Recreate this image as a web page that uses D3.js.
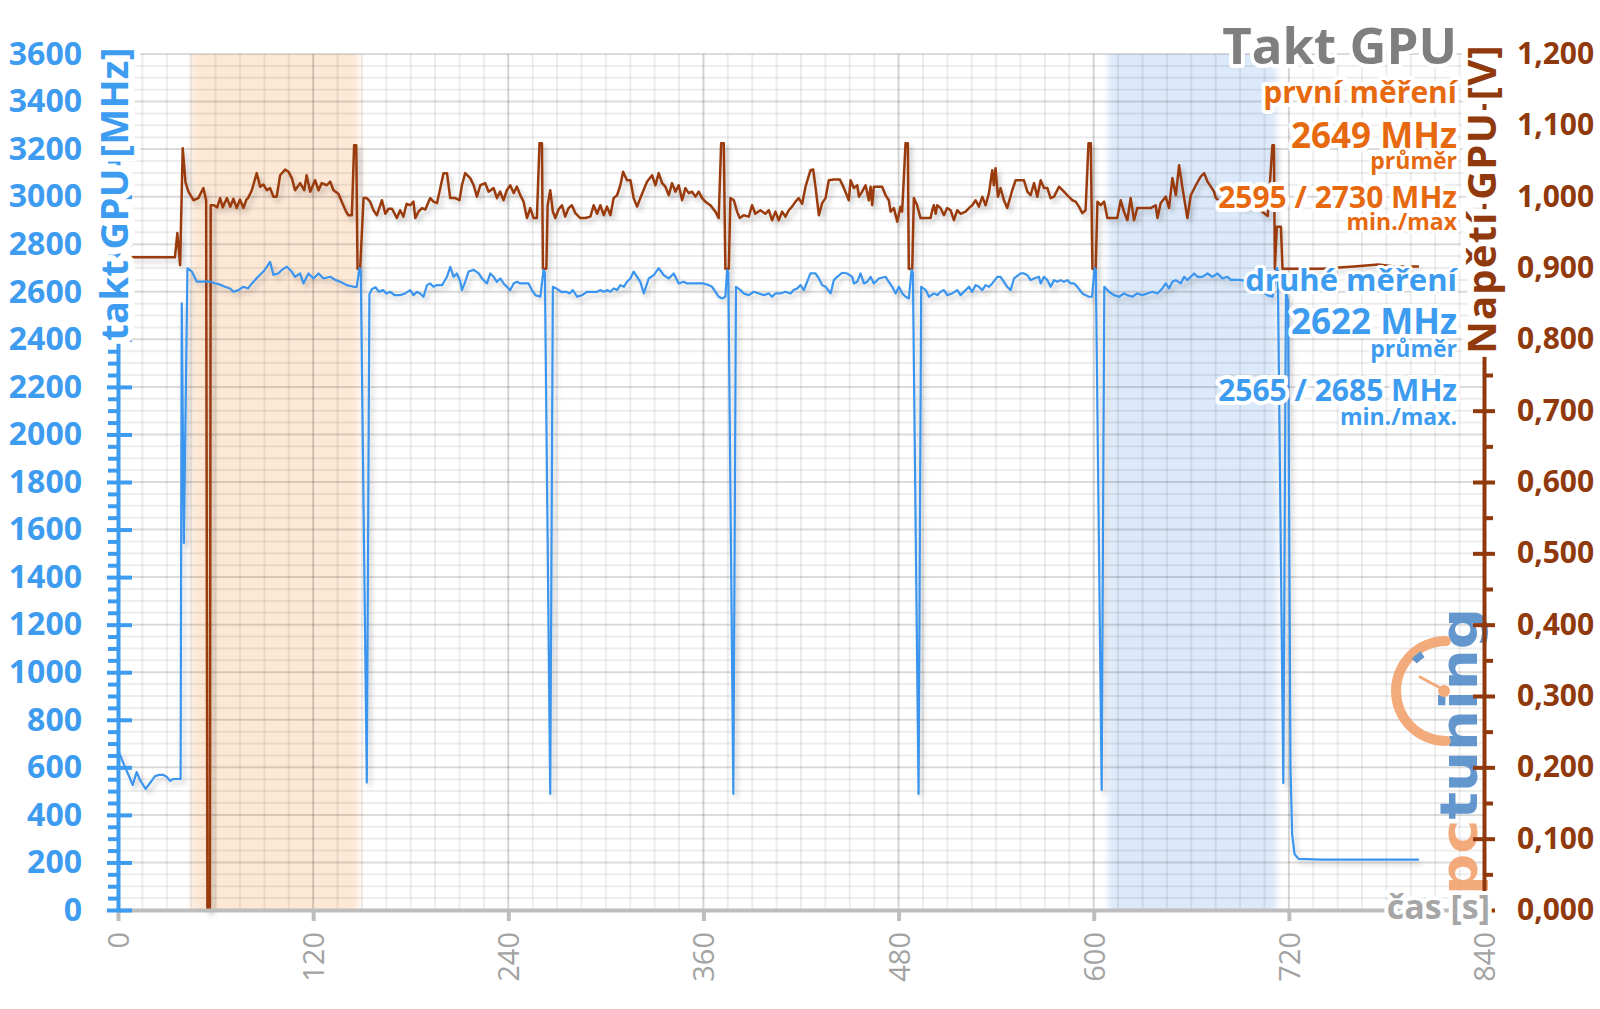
<!DOCTYPE html>
<html>
<head>
<meta charset="utf-8">
<title>Takt GPU</title>
<script src="https://cdn.jsdelivr.net/npm/d3@7"></script>
<style>
  html, body { margin: 0; padding: 0; background: #ffffff; }
  svg { display: block; }
</style>
</head>
<body>
<svg id="chart" width="1600" height="1009"></svg>
<script>
// ---- values ----
const timeTicks = [0, 120, 240, 360, 480, 600, 720, 840];
const clockTicks = [0, 200, 400, 600, 800, 1000, 1200, 1400, 1600, 1800, 2000, 2200, 2400, 2600, 2800, 3000, 3200, 3400, 3600];
const voltTicks = [0, 0.1, 0.2, 0.3, 0.4, 0.5, 0.6, 0.7, 0.8, 0.9, 1.0, 1.1, 1.2];
const voltMinorTicks = [0.05, 0.15, 0.25, 0.35, 0.45, 0.55, 0.65, 0.75, 0.85, 0.95, 1.05, 1.15];

// highlighted time windows [s]
const bandRanges = [[45, 148], [609, 712.5]];

// first run: GPU voltage [V] over time [s]
const voltPts = [[0,0.915],[35,0.915],[36.5,0.949],[38.2,0.904],[39.8,1.068],[41.5,1.020],[43.3,1.007],[46.4,0.995],[49.4,0.998],[52.5,1.012],[54.2,0.995],[55,0],[56.5,0],[57,0.988],[59,0.988],[61,0.985],[62.8,0.998],[64.4,0.985],[67,0.998],[69,0.986],[71,0.997],[73,0.984],[75,0.996],[77.1,0.984],[79,0.996],[80,0.998],[82.3,1.009],[85.3,1.033],[87.4,1.014],[89.5,1.017],[91.5,1.009],[93.5,1.012],[95.6,1.000],[97.6,1.000],[99.7,1.030],[102.8,1.038],[104.8,1.035],[106.9,1.026],[108.9,1.009],[112,1.019],[114.5,1.009],[116,1.030],[118.2,1.007],[121.2,1.023],[123.3,1.009],[125.3,1.019],[128.4,1.016],[130.5,1.021],[132.5,1.009],[135.5,1.004],[137.6,0.993],[140.3,0.979],[141.7,0.974],[143.8,0.974],[145.2,1.072],[146.5,1.072],[147.3,0.899],[148.9,0.899],[151,0.998],[153,0.998],[155,0.993],[157.1,0.981],[159.2,0.974],[162.3,0.995],[164.4,0.976],[166.4,0.983],[168.5,0.983],[171.5,0.970],[173.5,0.981],[175.5,0.972],[177.5,0.990],[179.7,0.988],[181.7,0.993],[182.8,0.970],[184.8,0.979],[186.9,0.984],[189,0.982],[192,0.998],[194,0.993],[196.2,0.991],[198.2,1.012],[200.2,1.033],[202.3,1.033],[204.3,0.998],[207.4,0.998],[210,0.995],[211.5,1.016],[213.5,1.033],[216.6,1.026],[218.7,1.016],[220.7,1.000],[222.8,1.016],[225.8,1.019],[227.9,1.007],[231,1.012],[233,0.998],[235,1.007],[237.1,0.995],[239.1,1.009],[241.2,1.016],[243.3,1.005],[245.3,1.014],[247.4,1.002],[249.4,0.993],[251.5,0.970],[253.5,0.984],[255.6,0.970],[257.6,0.970],[259.2,1.075],[260.7,1.075],[261.3,0.899],[263.4,0.899],[264.2,0.988],[265.8,1.009],[267.4,0.979],[268.9,0.970],[270.9,0.982],[273,0.988],[275,0.972],[277.1,0.984],[279.1,0.988],[281.2,0.977],[284.3,0.970],[287.4,0.970],[290.5,0.972],[292.5,0.988],[294.6,0.976],[296.6,0.988],[298.7,0.974],[300.7,0.986],[302.8,0.974],[304.8,0.998],[306.9,1.002],[308.9,1.016],[310.6,1.035],[313,1.023],[315.1,1.023],[317.1,0.998],[319.2,0.986],[321.2,0.998],[325.3,1.021],[328.4,1.030],[330.5,1.016],[332.5,1.033],[334.6,1.019],[336.6,1.014],[338.7,1.002],[340.7,1.019],[342.8,1.007],[344.8,1.016],[346.9,0.995],[348.9,1.012],[351,1.005],[353,1.007],[355.1,1.000],[357.1,1.007],[359.2,0.998],[361.2,0.993],[364.3,0.988],[367.4,0.979],[369.4,0.970],[370.9,1.075],[372.5,1.075],[373.5,0.899],[375.6,0.899],[376.6,0.998],[378.7,0.995],[380.7,0.979],[382.3,0.970],[384.8,0.974],[387.9,0.972],[389.9,0.988],[391.9,0.976],[395,0.981],[398.1,0.976],[400.2,0.981],[402.2,0.967],[404.3,0.979],[406.3,0.967],[408.4,0.979],[410.4,0.972],[412.5,0.981],[414.5,0.986],[416.6,0.993],[418.6,0.998],[420.7,0.990],[422.8,1.014],[425.8,1.037],[427.5,1.038],[429,1.012],[431,0.974],[433,0.991],[435.1,0.998],[437.1,1.023],[440.2,1.024],[443.9,1.024],[446.4,1.012],[449.4,0.995],[450.5,1.023],[452.5,1.012],[454.6,1.016],[455.6,1.000],[457.6,1.007],[459.7,1.016],[461.7,0.995],[462.8,1.014],[463.8,0.988],[464.8,1.014],[467.9,1.014],[469.9,1.014],[472,1.002],[474,0.995],[475.1,0.979],[477.1,0.984],[479.2,0.965],[481.2,0.986],[482.2,0.979],[484.3,1.075],[485.7,1.075],[486.3,0.899],[488.4,0.899],[489.4,0.998],[491.4,0.988],[493.5,0.970],[496.6,0.970],[499.7,0.970],[500.7,0.981],[501.7,0.988],[502.8,0.976],[503.8,0.988],[505.8,0.984],[507.9,0.974],[509.9,0.984],[512,0.981],[514,0.967],[516.1,0.981],[518.2,0.976],[521.2,0.979],[523.3,0.984],[525.3,0.988],[527.4,0.995],[529.4,0.986],[531.5,1.000],[533.5,0.988],[535.6,1.005],[537.6,1.037],[538.6,1.016],[539.6,1.040],[541.1,1.000],[542.7,1.012],[544.8,0.995],[546.8,0.984],[549.9,1.009],[552,1.023],[555.1,1.023],[557.1,1.023],[559.2,1.007],[561.2,1.002],[563.3,1.019],[565.3,1.000],[567.4,1.023],[569.4,1.012],[571.5,1.012],[573.5,0.998],[575.6,1.000],[578.7,1.014],[581.7,1.007],[583.8,1.002],[586.8,0.995],[588.9,0.993],[590.9,0.986],[593,0.977],[595,0.981],[596.8,1.075],[598.2,1.075],[599.2,0.899],[601.2,0.899],[602.3,0.993],[604.3,0.988],[606.4,0.993],[608.4,0.970],[611.5,0.970],[614.5,0.970],[616.6,0.995],[618.6,0.979],[620.7,0.967],[622.7,0.998],[624.8,0.967],[626.8,0.984],[630.9,0.984],[635.1,0.984],[638.1,0.988],[639.2,0.970],[641.2,0.991],[644.3,1.000],[646.3,0.984],[648.4,1.026],[650.5,1.002],[652.5,1.044],[654.6,1.012],[657.6,0.970],[659.7,1.002],[662.8,1.016],[665.8,1.028],[667.9,1.033],[670,1.021],[672,1.014],[674,1.007],[675.1,0.998],[680,0.990],[686,0.995],[692,0.985],[698,0.990],[703,0.980],[707,0.973],[709.9,1.072],[710.8,1.072],[711.4,0.899],[712.6,0.958],[715.1,0.958],[716.1,0.899],[740,0.899],[760,0.902],[775,0.905],[785,0.902],[800,0.902]];

// second run: GPU clock [MHz] over time [s]
const clockPts = [[0,673],[2,640],[4.3,601],[7,560],[9,526],[11.5,580],[13.5,547],[17,509],[19.7,534],[22.8,563],[25,568],[28,568],[30,560],[32,543],[34,551],[38.5,551],[39.2,2551],[40.5,1543],[42.7,2699],[45.3,2686],[48.4,2643],[56.6,2643],[59,2637],[62.8,2630],[65.8,2621],[68.9,2614],[71,2600],[74,2607],[77.1,2621],[80,2614],[82.3,2635],[84.3,2650],[86.3,2664],[89.4,2685],[91.5,2705],[93.5,2726],[95.6,2671],[98.7,2678],[100.7,2692],[103.8,2705],[106.8,2685],[108.9,2663],[112,2677],[114,2635],[117.1,2677],[120.2,2656],[123.3,2677],[126.4,2656],[130.5,2663],[133.6,2650],[136.7,2642],[140.7,2628],[144.8,2621],[146.8,2621],[148.5,2700],[149.3,2690],[153,536],[154.6,2590],[156.2,2612],[158.3,2619],[160.5,2600],[163,2607],[165,2593],[167.5,2600],[170,2586],[173.5,2586],[176.6,2593],[179.7,2607],[181.7,2586],[183.8,2600],[185.8,2593],[187.9,2579],[190,2628],[192,2635],[194,2621],[196.2,2628],[199.3,2628],[202.3,2663],[204.3,2705],[206.4,2663],[208.4,2677],[210.5,2642],[211.5,2607],[213.5,2642],[215.6,2685],[218.7,2692],[221.8,2677],[223.8,2656],[226.9,2635],[228.9,2677],[231,2663],[233,2642],[235.1,2656],[237.1,2635],[239.1,2621],[241.2,2607],[243.3,2635],[245.3,2642],[247.4,2635],[250.4,2635],[252.5,2635],[254.5,2607],[256.6,2586],[259.7,2579],[261.7,2692],[262.5,2680],[265.8,488],[267.4,2621],[269.5,2614],[272.5,2600],[275.6,2600],[277.7,2593],[279.7,2607],[282.3,2579],[285.4,2586],[288.5,2600],[291.6,2600],[294.6,2600],[296.7,2607],[298.7,2600],[300.7,2607],[302.8,2600],[304.8,2614],[306.9,2607],[308.9,2628],[311,2621],[313,2642],[315.1,2656],[317.1,2685],[319.2,2663],[321.2,2642],[323.3,2593],[326.4,2656],[329.5,2670],[332.5,2699],[335.6,2670],[338.7,2656],[341.7,2677],[344.8,2635],[347.9,2642],[349.9,2635],[354,2635],[360.2,2635],[363.3,2628],[365.3,2621],[367.4,2600],[369.4,2579],[371.5,2572],[373.5,2579],[374.6,2692],[375.3,2680],[378.4,488],[380,2621],[382.8,2607],[384.8,2593],[387.9,2586],[391,2600],[394.1,2593],[397.2,2586],[400.2,2593],[402.2,2579],[404.3,2593],[407.4,2593],[410.4,2600],[413.5,2593],[415.5,2607],[417.6,2614],[419.7,2628],[421.7,2607],[423.8,2642],[425.8,2677],[428.9,2677],[431,2656],[433,2628],[435.1,2621],[438.2,2593],[440.2,2649],[442.3,2663],[445.3,2680],[448.4,2677],[451.5,2663],[452.5,2635],[454.6,2642],[456.6,2677],[458.7,2635],[460.7,2642],[462.8,2663],[464.8,2635],[467.9,2656],[472,2663],[474,2642],[476.1,2621],[478.2,2593],[480.2,2621],[482.3,2593],[484.3,2579],[486.3,2572],[488,2692],[488.8,2680],[492.3,488],[493.9,2621],[496.8,2607],[498.7,2579],[501.7,2593],[503.8,2586],[505.8,2600],[507.9,2607],[509.9,2586],[513,2593],[516.1,2607],[518.1,2586],[521.2,2607],[523.3,2621],[525.3,2600],[527.4,2628],[529.4,2621],[531.5,2607],[533.5,2628],[535.6,2621],[537.6,2635],[540.7,2663],[542.7,2663],[544.8,2642],[546.8,2621],[548.9,2607],[551,2656],[555.1,2677],[557.1,2677],[559.2,2670],[561.2,2649],[563.3,2656],[566.3,2663],[567.4,2635],[569.4,2663],[571.5,2649],[573.5,2621],[575.6,2649],[577.6,2642],[579.7,2649],[581.7,2642],[583.8,2649],[585.8,2635],[587.9,2635],[589.9,2621],[593,2593],[595,2586],[597,2579],[599,2579],[600.5,2700],[601.3,2690],[604.9,505],[606.5,2621],[609.4,2600],[612.5,2586],[615.6,2579],[618.7,2593],[620.7,2586],[623.8,2579],[626.8,2593],[629.9,2586],[633,2593],[636.1,2600],[639.2,2593],[642.2,2614],[644.3,2635],[646.3,2614],[648.4,2642],[650.4,2649],[653.5,2635],[655.6,2663],[657.6,2649],[659.7,2663],[661.7,2677],[663.8,2663],[666.9,2663],[670,2677],[673,2663],[676.1,2677],[679.2,2656],[682.2,2663],[684.3,2650],[690,2650],[697,2640],[703,2610],[707,2585],[710,2579],[712.5,2700],[713.2,2690],[716.6,534],[718.2,2600],[719.5,2560],[721,600],[722,320],[723.5,235],[726,215],[740,212],[800,212]];

// ---- styling ----
const FONT = "'Open Sans', 'DejaVu Sans', sans-serif";
const BLUE = "#3d9cf0", BLUE_LINE = "#3b95ee";
const BROWN = "#8f390c", BROWN_LINE = "#9a3b0e";
const ORANGE = "#e7690f", GRAY = "#a3a3a3";
const bandColors = ["#fde8d6", "#dce9fa"];

const svg = d3.select("#chart");

const x = d3.scaleLinear().domain([0, 840]).range([118, 1484]);
const yF = d3.scaleLinear().domain([0, 3600]).range([910, 54]);
const yV = d3.scaleLinear().domain([0, 1.2]).range([910, 54]);
const plotTop = yF(3600), plotBottom = yF(0);

// filters
const defs = svg.append("defs");
defs.append("filter").attr("id", "soft")
    .attr("x", "-10%").attr("width", "120%")
  .append("feGaussianBlur").attr("stdDeviation", "3 0");
defs.append("filter").attr("id", "shadow")
    .attr("x", "-5%").attr("y", "-5%").attr("width", "110%").attr("height", "115%")
  .append("feDropShadow").attr("dx", 3).attr("dy", 4).attr("stdDeviation", 2.5)
    .attr("flood-color", "#000").attr("flood-opacity", 0.2);

// shaded windows
svg.append("g").selectAll("rect")
  .data(bandRanges)
  .join("rect")
    .attr("x", d => x(d[0]))
    .attr("width", d => x(d[1]) - x(d[0]))
    .attr("y", plotTop)
    .attr("height", plotBottom - plotTop)
    .attr("fill", (d, i) => bandColors[i])
    .attr("filter", "url(#soft)");

// grid
let grid = svg.append("g");
grid.selectAll("line.v")
  .data(d3.range(0, 841, 15))
  .join("line")
    .attr("class", "v")
    .attr("x1", d => x(d)).attr("x2", d => x(d))
    .attr("y1", plotTop).attr("y2", plotBottom)
    .attr("stroke", d => d % 120 ? "rgba(0,0,0,0.07)" : "rgba(0,0,0,0.17)")
    .attr("stroke-width", 2);
grid.selectAll("line.h")
  .data(d3.range(50, 3601, 50))
  .join("line")
    .attr("class", "h")
    .attr("x1", x(0)).attr("x2", x(840))
    .attr("y1", d => yF(d)).attr("y2", d => yF(d))
    .attr("stroke", d => d % 200 ? "rgba(0,0,0,0.07)" : "rgba(0,0,0,0.14)")
    .attr("stroke-width", 2);

// pctuning logo (watermark)
let logo = svg.append("g").attr("opacity", 0.85);
let lt = logo.append("text")
    .attr("transform", "translate(1477,895) rotate(-90)")
    .attr("font-family", "'DejaVu Sans', sans-serif")
    .attr("font-weight", "bold")
    .attr("font-size", 52)
    .attr("textLength", 287)
    .attr("lengthAdjust", "spacingAndGlyphs");
lt.append("tspan").attr("fill", "#f29d66").text("pc");
lt.append("tspan").attr("fill", "#4a86c6").text("tuning");
logo.append("path")
    .attr("transform", "translate(1446,691)")
    .attr("d", d3.arc().innerRadius(45).outerRadius(55).startAngle(Math.PI * 0.97).endAngle(Math.PI * 2.03).cornerRadius(5)())
    .attr("fill", "#f29d66");
logo.append("path")
    .attr("transform", "translate(1446,691)")
    .attr("d", d3.arc().innerRadius(40).outerRadius(47).startAngle(Math.PI * 1.74).endAngle(Math.PI * 1.82)())
    .attr("fill", "#4a86c6");
logo.append("line")
    .attr("x1", 1446).attr("y1", 691).attr("x2", 1420).attr("y2", 677)
    .attr("stroke", "#f29d66").attr("stroke-width", 3).attr("stroke-linecap", "round");
logo.append("circle").attr("cx", 1444).attr("cy", 691).attr("r", 6).attr("fill", "#f29d66");

// series
let lineV = d3.line().x(d => x(d[0])).y(d => yV(d[1]));
let lineF = d3.line().x(d => x(d[0])).y(d => yF(d[1]));

svg.append("path")
    .datum(voltPts)
    .attr("d", lineV)
    .attr("fill", "none")
    .attr("stroke", BROWN_LINE)
    .attr("stroke-width", 2.5)
    .attr("stroke-linejoin", "round")
    .attr("filter", "url(#shadow)");

svg.append("path")
    .datum(clockPts)
    .attr("d", lineF)
    .attr("fill", "none")
    .attr("stroke", BLUE_LINE)
    .attr("stroke-width", 2.2)
    .attr("stroke-linejoin", "round")
    .attr("filter", "url(#shadow)");

// bottom axis
let axB = svg.append("g")
    .attr("transform", `translate(0,${plotBottom})`)
    .call(d3.axisBottom(x).tickValues(timeTicks).tickSizeInner(11).tickSizeOuter(0).tickFormat(d => d))
    .attr("font-family", FONT).attr("font-size", 29);
axB.select(".domain").attr("stroke", "#bdbdbd").attr("stroke-width", 4);
axB.selectAll(".tick line").attr("stroke", "#bdbdbd").attr("stroke-width", 4);
axB.selectAll(".tick text")
    .attr("fill", GRAY)
    .attr("transform", "rotate(-90)")
    .attr("x", -22).attr("y", 0).attr("dy", "0.36em")
    .attr("text-anchor", "end");

// left axis (clock)
svg.append("g")
    .attr("transform", `translate(${x(0)},0)`)
    .call(d3.axisLeft(yF).tickValues(d3.range(50, 3600, 50).filter(v => v % 200)).tickSizeInner(10).tickSizeOuter(0).tickFormat(""))
    .call(g => g.select(".domain").remove())
    .selectAll(".tick line").attr("stroke", BLUE).attr("stroke-width", 4);

let axL = svg.append("g")
    .attr("transform", `translate(${x(0)},0)`)
    .call(d3.axisLeft(yF).tickValues(clockTicks).tickSizeInner(11).tickSizeOuter(0).tickPadding(25).tickFormat(d => d))
    .attr("font-family", FONT).attr("font-size", 32).attr("font-weight", "bold");
axL.select(".domain").attr("stroke", BLUE).attr("stroke-width", 4);
axL.selectAll(".tick line").attr("x1", 14).attr("stroke", BLUE).attr("stroke-width", 4);
axL.selectAll(".tick text").attr("fill", BLUE);

// right axis (voltage)
svg.append("g")
    .attr("transform", `translate(${x(840)},0)`)
    .call(d3.axisRight(yV).tickValues(voltMinorTicks).tickSizeInner(9).tickSizeOuter(0).tickFormat(""))
    .call(g => g.select(".domain").remove())
    .selectAll(".tick line").attr("stroke", BROWN).attr("stroke-width", 4);

let axR = svg.append("g")
    .attr("transform", `translate(${x(840)},0)`)
    .call(d3.axisRight(yV).tickValues(voltTicks).tickSizeInner(11).tickSizeOuter(0).tickPadding(22)
      .tickFormat(d => d.toFixed(3).replace(".", ",")))
    .attr("font-family", FONT).attr("font-size", 30).attr("font-weight", "bold");
axR.select(".domain").attr("stroke", BROWN).attr("stroke-width", 4);
axR.selectAll(".tick line").attr("x1", -11).attr("stroke", BROWN).attr("stroke-width", 4);
axR.selectAll(".tick text").attr("fill", BROWN);

// text with a white halo (stroke painted under the fill)
function haloText(str, o) {
  svg.append("text")
      .attr("transform", o.transform || null)
      .attr("x", o.x || 0).attr("y", o.y || 0)
      .attr("text-anchor", o.anchor || "end")
      .attr("font-family", FONT)
      .attr("font-weight", o.weight || "bold")
      .attr("font-size", o.size)
      .attr("letter-spacing", o.spacing || null)
      .attr("fill", o.color)
      .attr("stroke", "#fff")
      .attr("stroke-width", o.halo || 8)
      .attr("stroke-linejoin", "round")
      .attr("paint-order", "stroke")
      .text(str);
}

// axis titles
haloText("takt GPU [MHz]", {transform: "translate(128,194) rotate(-90)", anchor: "middle", size: 38, spacing: 0.4, color: BLUE, halo: 13});
haloText("Napětí GPU [V]", {transform: "translate(1496,199) rotate(-90)", anchor: "middle", size: 40, spacing: 1.2, color: BROWN, halo: 13});
haloText("čas [s]", {x: 1490, y: 919, size: 34, color: "#a6a6a6", halo: 8});

// annotations
const RX = 1457;
haloText("Takt GPU", {x: RX, y: 64, size: 51, color: "#7f7f7f"});
haloText("první měření", {x: RX, y: 103, size: 30, color: ORANGE});
haloText("2649 MHz", {x: RX, y: 148, size: 35, color: ORANGE});
haloText("průměr", {x: RX, y: 169, size: 23, color: ORANGE, halo: 6});
haloText("2595 / 2730 MHz", {x: RX, y: 208, size: 30, color: ORANGE});
haloText("min./max", {x: RX, y: 230, size: 23, color: ORANGE, halo: 6});
haloText("druhé měření", {x: RX, y: 291, size: 31, color: BLUE, halo: 6});
haloText("2622 MHz", {x: RX, y: 334, size: 35, color: BLUE});
haloText("průměr", {x: RX, y: 357, size: 23, color: BLUE, halo: 6});
haloText("2565 / 2685 MHz", {x: RX, y: 401, size: 30, color: BLUE});
haloText("min./max.", {x: RX, y: 425, size: 23, color: BLUE, halo: 6});
</script>
</body>
</html>
